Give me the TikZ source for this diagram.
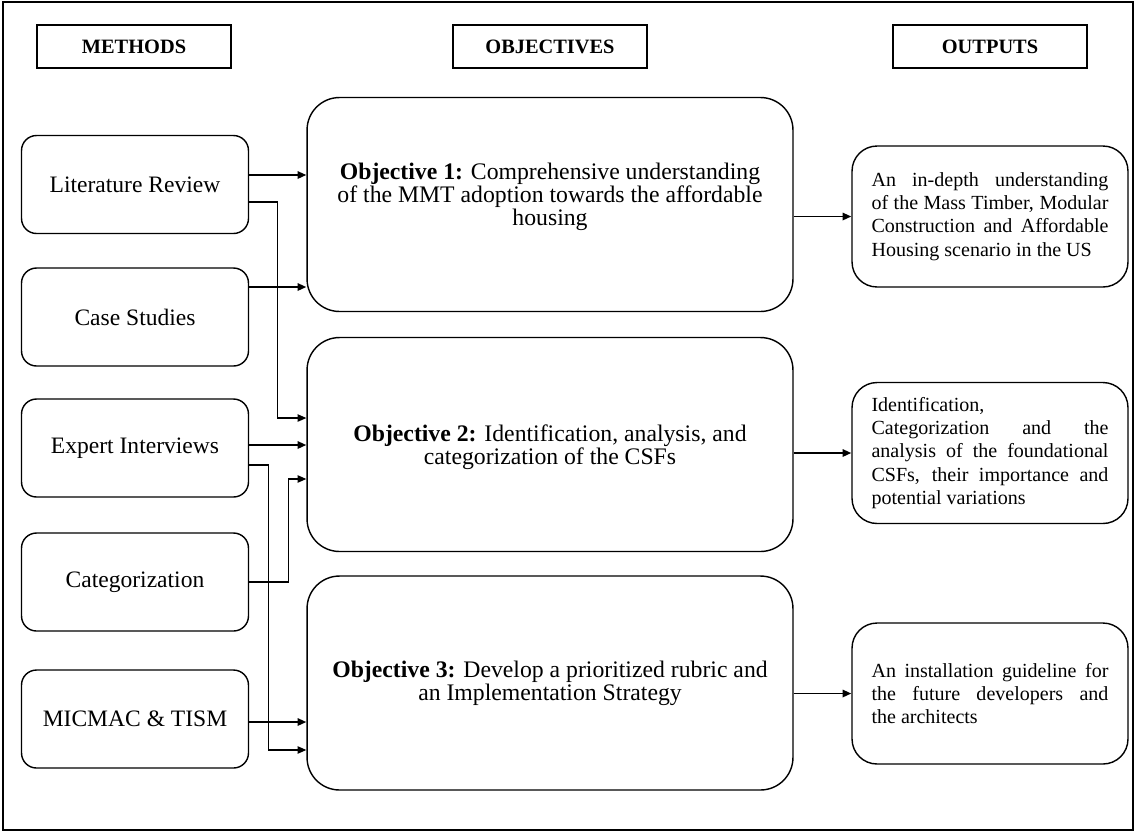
\documentclass[tikz,border=0pt]{standalone}
\usepackage{fontspec}
\setmainfont{Liberation Serif}
\usetikzlibrary{shapes,arrows.meta,positioning}

\begin{document}
\begin{tikzpicture}[x=0.02cm,y=-0.02cm]
      \tikzstyle{heading} = [rectangle, draw, line width=0.9pt, minimum width=3.88cm, minimum height=0.86cm, font=\bfseries\fontsize{11.6}{13}\selectfont]
      \tikzstyle{method} = [rectangle, rounded corners=0.3cm, draw, line width=0.8pt, minimum width=4.54cm, minimum height=1.96cm, font=\fontsize{13.4}{16}\selectfont]
      \tikzstyle{objective} = [rectangle, rounded corners=0.65cm, draw, line width=0.8pt, minimum width=9.72cm, minimum height=4.28cm, align=center, font=\fontsize{13.5}{13.2}\selectfont]
      \tikzstyle{output} = [rectangle, rounded corners=0.5cm, draw, line width=0.8pt, minimum width=5.52cm, minimum height=2.82cm, text width=4.74cm, align=justify, font=\fontsize{11.4}{13.2}\selectfont]
      \tikzstyle{feed} = [-{Triangle[length=5pt,width=4.2pt]}, line width=1.1pt]
      \tikzstyle{route} = [-{Triangle[length=5pt,width=4.2pt]}, line width=0.75pt]

      \useasboundingbox (0,0) rectangle (1141,833);
      \draw[line width=0.8pt] (3,2) rectangle (1133,830);

      \node[heading] (hmethods) at (134,46.5) {METHODS};
      \node[heading] (hobjectives) at (550,46.5) {OBJECTIVES};
      \node[heading] (houtputs) at (990,46.5) {OUTPUTS};

      \node[method] (litreview) at (135,184.5) {Literature Review};
      \node[method] (casestudies) at (135,317) {Case Studies};
      \node[method] (interviews) at (135,448) {Expert Interviews};
      \node[method] (categorization) at (135,582) {Categorization};
      \node[method] (micmac) at (135,719) {MICMAC \& TISM};

      \node[objective, text depth=12pt] (obj1) at (550,204.5) {\textbf{Objective 1:} Comprehensive understanding\\of the MMT adoption towards the affordable\\housing};
      \node[objective, text depth=0pt] (obj2) at (550,444.5) {\textbf{Objective 2:} Identification, analysis, and\\categorization of the CSFs};
      \node[objective] (obj3) at (550,683) {\textbf{Objective 3:} Develop a prioritized rubric and\\an Implementation Strategy};

      \node[output] (out1) at (990,216.5) {An in-depth understanding\linebreak of the Mass Timber, Modular\linebreak Construction and Affordable\linebreak Housing scenario in the US};
      \node[output] (out2) at (990,453) {Identification,\\Categorization and the\linebreak analysis of the foundational\linebreak CSFs, their importance and\linebreak potential variations};
      \node[output] (out3) at (990,693.5) {An installation guideline for\linebreak the future developers and\linebreak the architects};

      \draw[feed] ([yshift=0.19cm]litreview.east) -- ([yshift=0.19cm]litreview.east -| obj1.west);
      \draw[route] ([yshift=-0.35cm]litreview.east) -- ++(28,0) |- ([yshift=0.53cm]obj2.west);
      \draw[feed] ([yshift=0.6cm]casestudies.east) -- ([yshift=0.6cm]casestudies.east -| obj1.west);
      \draw[feed] ([yshift=0.06cm]interviews.east) -- ([yshift=0.06cm]interviews.east -| obj2.west);
      \draw[route] ([yshift=-0.34cm]interviews.east) -- ++(19,0) |- ([yshift=-1.34cm]obj3.west);
      \draw[route] (categorization.east) -- ++(39,0) |- ([yshift=-0.69cm]obj2.west);
      \draw[feed] ([yshift=-0.06cm]micmac.east) -- ([yshift=-0.06cm]micmac.east -| obj3.west);

      \draw[feed] (obj1.east |- out1.west) -- (out1.west);
      \draw[feed] (obj2.east |- out2.west) -- (out2.west);
      \draw[feed] (obj3.east |- out3.west) -- (out3.west);
    \end{tikzpicture}
\end{document}
